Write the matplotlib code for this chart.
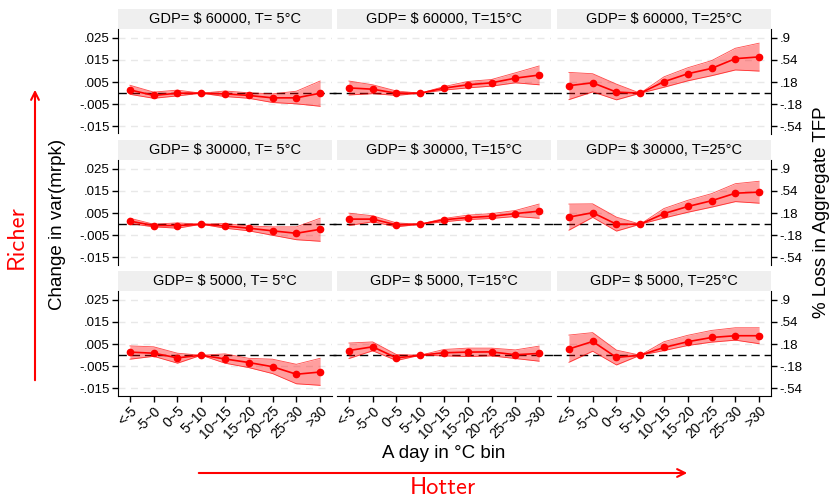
import numpy as np
import matplotlib.pyplot as plt
from matplotlib.patches import Rectangle, FancyArrowPatch

plt.rcParams['font.family'] = ['Liberation Sans', 'DejaVu Sans']

bins = ['<-5', '-5~0', '0~5', '5~10', '10~15', '15~20', '20~25', '25~30', '>30']
gdp_levels = [60000, 30000, 5000]
temps = [5, 15, 25]

# GDP = 60000
est_60k_5 = [0.0015, -0.0010, 0.0000, 0, -0.0003, -0.0010, -0.0021, -0.0021, 0.0000]
lo_60k_5 = [-0.0005, -0.0023, -0.0012, 0, -0.0015, -0.0023, -0.0042, -0.0048, -0.0059]
hi_60k_5 = [0.0036, 0.0005, 0.0014, 0, 0.0010, 0.0002, -0.0003, 0.0009, 0.0055]

est_60k_15 = [0.0024, 0.0018, 0.0000, 0, 0.0023, 0.0038, 0.0047, 0.0068, 0.0082]
lo_60k_15 = [-0.0008, -0.0002, -0.0010, 0, 0.0014, 0.0024, 0.0032, 0.0047, 0.0038]
hi_60k_15 = [0.0055, 0.0038, 0.0010, 0, 0.0030, 0.0053, 0.0062, 0.0092, 0.0123]

est_60k_25 = [0.0034, 0.0047, 0.0005, 0, 0.0052, 0.0088, 0.0112, 0.0156, 0.0164]
lo_60k_25 = [-0.0029, 0.0006, -0.0030, 0, 0.0027, 0.0056, 0.0079, 0.0105, 0.0100]
hi_60k_25 = [0.0094, 0.0088, 0.0041, 0, 0.0074, 0.0115, 0.0147, 0.0203, 0.0226]

# GDP = 30000
est_30k_5 = [0.0014, -0.0006, -0.0006, 0, -0.0008, -0.0018, -0.0030, -0.0041, -0.0023]
lo_30k_5 = [0.0003, -0.0012, -0.0018, 0, -0.0018, -0.0030, -0.0050, -0.0070, -0.0077]
hi_30k_5 = [0.0027, 0.0000, 0.0006, 0, 0.0003, -0.0008, -0.0012, -0.0012, 0.0027]

est_30k_15 = [0.0023, 0.0023, -0.0003, 0, 0.0020, 0.0030, 0.0036, 0.0048, 0.0059]
lo_30k_15 = [-0.0006, 0.0011, -0.0012, 0, 0.0011, 0.0021, 0.0026, 0.0035, 0.0027]
hi_30k_15 = [0.0050, 0.0038, 0.0006, 0, 0.0026, 0.0041, 0.0048, 0.0062, 0.0091]

est_30k_25 = [0.0032, 0.0052, 0.0000, 0, 0.0048, 0.0080, 0.0106, 0.0140, 0.0145]
lo_30k_25 = [-0.0027, 0.0031, -0.0031, 0, 0.0028, 0.0054, 0.0077, 0.0102, 0.0095]
hi_30k_25 = [0.0091, 0.0092, 0.0032, 0, 0.0071, 0.0108, 0.0138, 0.0183, 0.0194]

# GDP = 5000
est_5k_5 = [0.0014, 0.0009, -0.0012, 0, -0.0017, -0.0033, -0.0052, -0.0086, -0.0076]
lo_5k_5 = [-0.0018, -0.0005, -0.0036, 0, -0.0036, -0.0056, -0.0083, -0.0129, -0.0136]
hi_5k_5 = [0.0042, 0.0038, 0.0009, 0, 0.0006, -0.0014, -0.0018, -0.0041, -0.0014]

est_5k_15 = [0.0021, 0.0038, -0.0012, 0, 0.0011, 0.0014, 0.0015, 0.0002, 0.0008]
lo_5k_15 = [-0.0015, 0.0020, -0.0024, 0, -0.0003, -0.0006, -0.0003, -0.0015, -0.0027]
hi_5k_15 = [0.0055, 0.0060, 0.0003, 0, 0.0026, 0.0032, 0.0032, 0.0024, 0.0041]

est_5k_25 = [0.0028, 0.0062, -0.0010, 0, 0.0035, 0.0061, 0.0080, 0.0088, 0.0088]
lo_5k_25 = [-0.0032, 0.0018, -0.0044, 0, 0.0021, 0.0044, 0.0059, 0.0068, 0.0052]
hi_5k_25 = [0.0091, 0.0102, 0.0023, 0, 0.0061, 0.0090, 0.0112, 0.0124, 0.0124]

panels = [
    [(est_60k_5, lo_60k_5, hi_60k_5), (est_60k_15, lo_60k_15, hi_60k_15), (est_60k_25, lo_60k_25, hi_60k_25)],
    [(est_30k_5, lo_30k_5, hi_30k_5), (est_30k_15, lo_30k_15, hi_30k_15), (est_30k_25, lo_30k_25, hi_30k_25)],
    [(est_5k_5, lo_5k_5, hi_5k_5), (est_5k_15, lo_5k_15, hi_5k_15), (est_5k_25, lo_5k_25, hi_5k_25)],
]

left_ticks = [0.025, 0.015, 0.005, -0.005, -0.015]
left_labels = ['.025', '.015', '.005', '-.005', '-.015']
right_ticks = [0.9, 0.54, 0.18, -0.18, -0.54]
right_labels = ['.9', '.54', '.18', '-.18', '-.54']
tfp_scale = 36  # right axis = left axis * 36
ylim = (-0.0182, 0.029)

W, H = 832, 501
fig = plt.figure(figsize=(W / 100, H / 100), dpi=100)

col_left = [118, 337, 557]
row_top = [29, 160, 291]
ax_w, ax_h = 214, 104.5
strip_h = 20

x = np.arange(len(bins))
for r in range(3):
    for c in range(3):
        ax = fig.add_axes([col_left[c] / W, 1 - (row_top[r] + ax_h) / H, ax_w / W, ax_h / H])
        est, lo, hi = panels[r][c]
        ax.set_xlim(-0.5, 8.5)
        ax.set_ylim(*ylim)
        ax.set_yticks(left_ticks)
        ax.set_yticklabels(left_labels)
        ax.yaxis.grid(True, color='#e8e8e8', ls=(0, (5, 4)), lw=1)
        ax.set_axisbelow(True)

        # zero line, runs through the gaps between panels
        x0 = -0.5 if c == 0 else -0.65
        x1 = 8.5 if c == 2 else 8.65
        ax.plot([x0, x1], [0, 0], color='black', lw=1, dashes=(6, 3.5), clip_on=False, zorder=1)

        ax.fill_between(x, lo, hi, color='#ff0000', alpha=0.38, lw=0, zorder=2)
        ax.plot(x, lo, color='#ff0000', lw=0.6, alpha=0.7, zorder=2)
        ax.plot(x, hi, color='#ff0000', lw=0.6, alpha=0.7, zorder=2)
        ax.plot(x, est, color='#ff0000', lw=1.2, marker='o', ms=4.5, zorder=3)

        for s in ['top', 'right']:
            ax.spines[s].set_visible(False)
        ax.spines['left'].set_visible(c == 0)
        ax.spines['bottom'].set_visible(r == 2)
        ax.tick_params(axis='y', direction='out', length=4, width=1, labelsize=9.5,
                       left=(c == 0), labelleft=(c == 0), pad=2)
        if r == 2:
            ax.set_xticks(x)
            ax.set_xticklabels(bins, rotation=45, ha='right', rotation_mode='anchor')
            ax.tick_params(axis='x', direction='out', length=4, width=1, labelsize=10, pad=2)
        else:
            ax.set_xticks([])

        # strip header
        sh = strip_h / ax_h
        ax.add_patch(Rectangle((0, 1), 1, sh, transform=ax.transAxes, facecolor='#efefef',
                               edgecolor='none', clip_on=False))
        tstr = 'T= %d°C' % temps[c] if temps[c] < 10 else 'T=%d°C' % temps[c]
        ax.text(0.5, 1 + sh / 2, 'GDP= $ %d, %s' % (gdp_levels[r], tstr), transform=ax.transAxes,
                ha='center', va='center', fontsize=10.5)

        if c == 2:
            ax2 = ax.secondary_yaxis('right', functions=(lambda v: v * tfp_scale, lambda v: v / tfp_scale))
            ax2.set_yticks(right_ticks)
            ax2.set_yticklabels(right_labels)
            ax2.tick_params(axis='y', direction='out', length=4, width=1, labelsize=9.5, pad=2)

fig.text(57 / W, 1 - 224 / H, 'Change in var(mrpk)', rotation=90, ha='center', va='center', fontsize=13.5)
fig.text(821 / W, 1 - 212 / H, '% Loss in Aggregate TFP', rotation=90, ha='center', va='center', fontsize=13.5)
fig.text(444 / W, 1 - 453 / H, 'A day in °C bin', ha='center', va='center', fontsize=13.5)

fig.text(443 / W, 1 - 488 / H, 'Hotter', ha='center', va='center', fontsize=17.5,
         color='red', family='cmss10')
fig.text(17 / W, 1 - 237 / H, 'Richer', rotation=90, ha='center', va='center', fontsize=17.5,
         color='red', family='cmss10')

fig.add_artist(FancyArrowPatch((196 / W, 1 - 473 / H), (690 / W, 1 - 473 / H), transform=fig.transFigure,
                               arrowstyle='->', mutation_scale=14, color='red', lw=1.5))
fig.add_artist(FancyArrowPatch((35 / W, 1 - 383 / H), (35 / W, 1 - 87 / H), transform=fig.transFigure,
                               arrowstyle='->', mutation_scale=14, color='red', lw=1.5))

fig.savefig('out.png', dpi=100)
